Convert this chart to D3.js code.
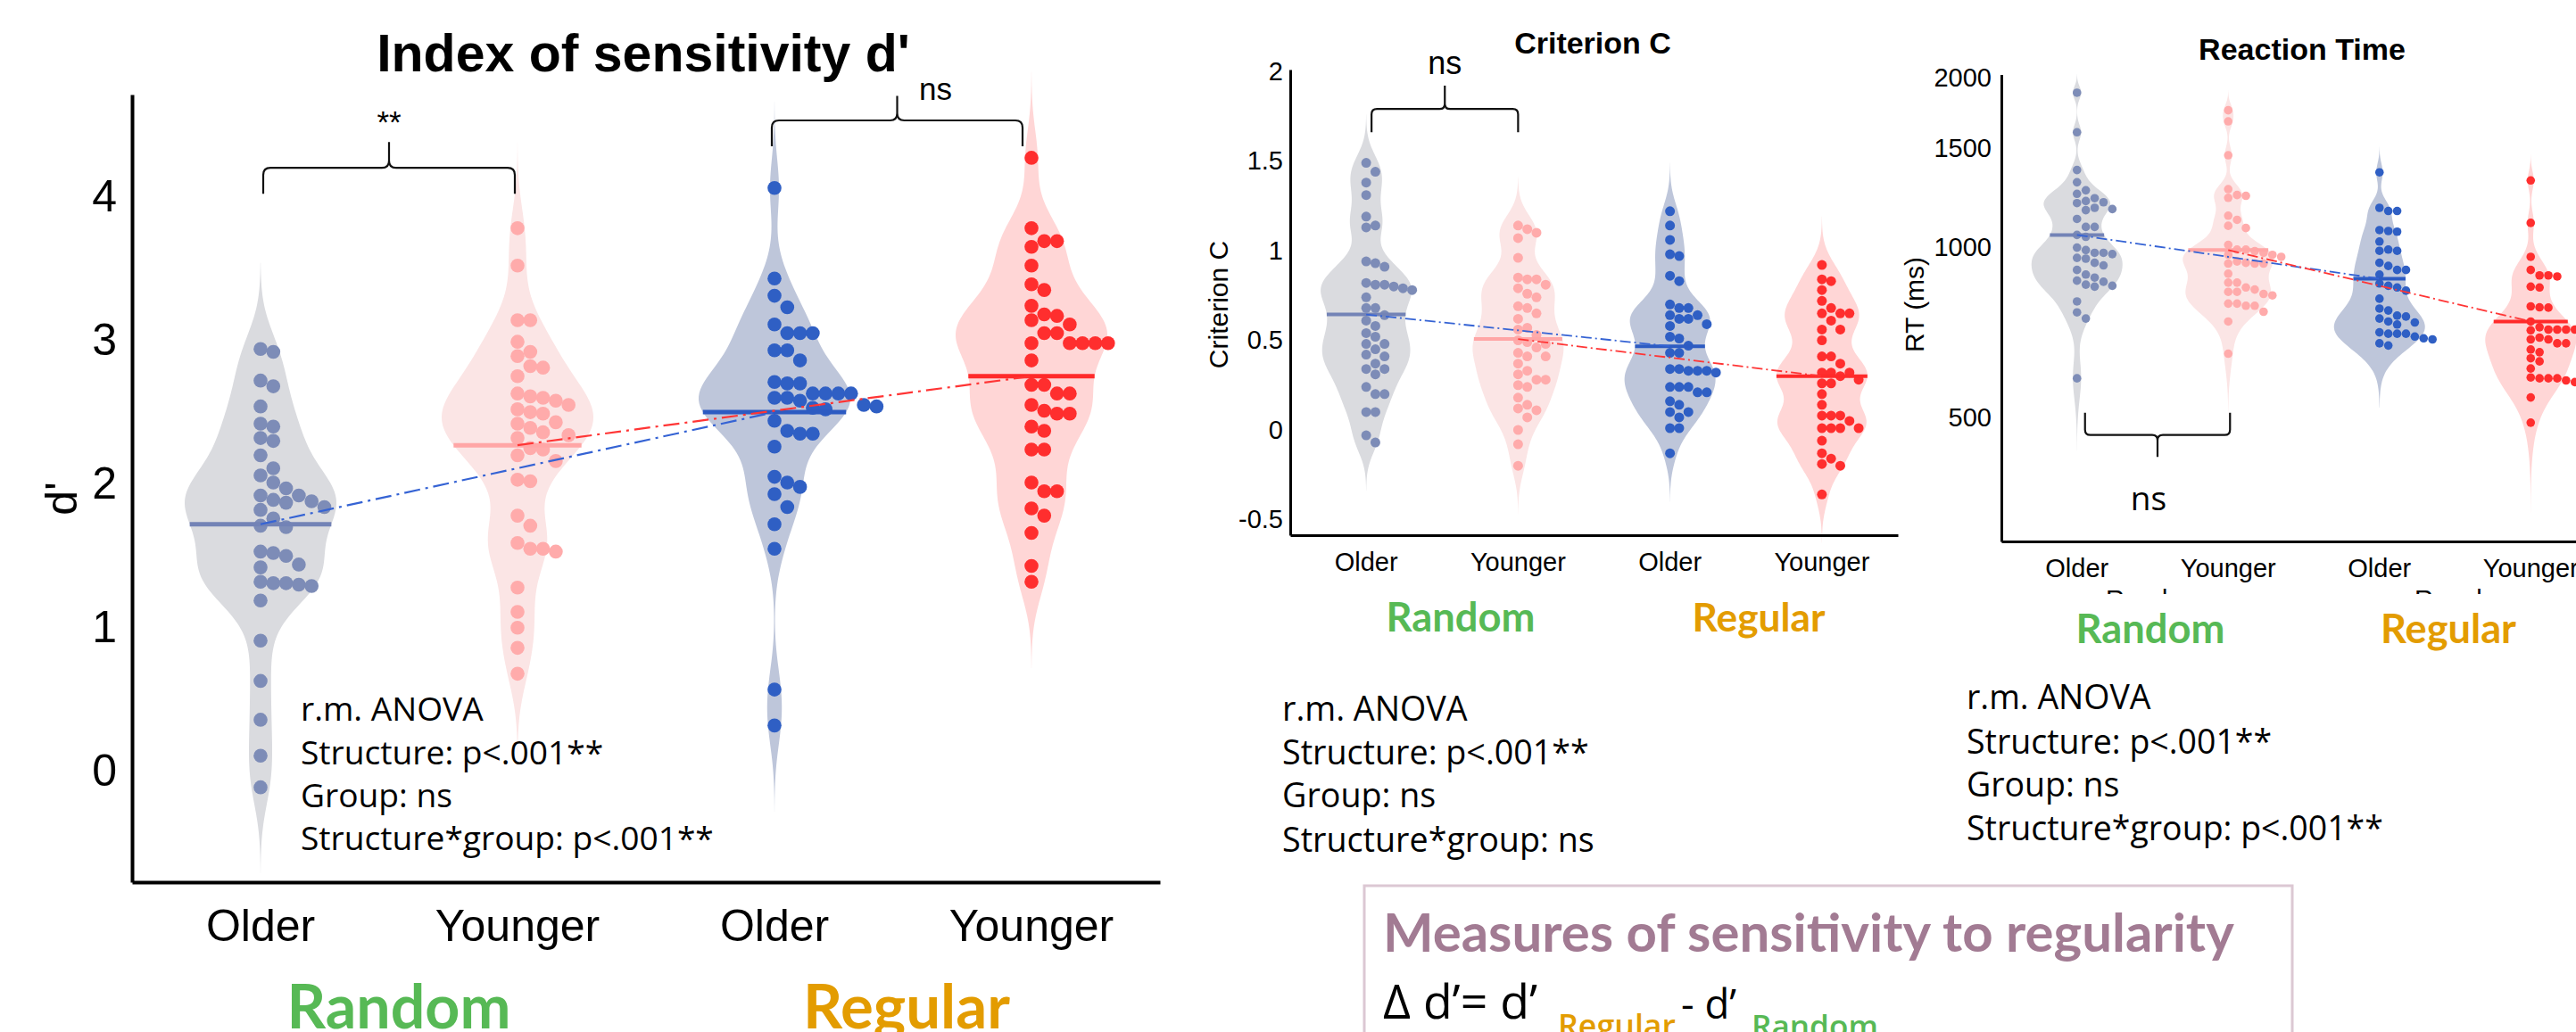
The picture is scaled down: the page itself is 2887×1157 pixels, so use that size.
<!DOCTYPE html>
<html>
<head>
<meta charset="utf-8">
<script src="https://cdn.jsdelivr.net/npm/d3@7"></script>
<style>
  body { margin: 0; background: #fff; }
  svg { display: block; }
</style>
</head>
<body>
<svg id="fig" width="2887" height="1157"></svg>
<script>
// ---- categories ----
const groups = ['Random-Older', 'Random-Younger', 'Regular-Older', 'Regular-Younger'];
const groupLabels = ['Older', 'Younger', 'Older', 'Younger'];
const structures = ['Random', 'Regular'];

// ---- d' (index of sensitivity) ----
const dOlderRandom = [2.94,2.92,2.72,2.68,2.54,2.42,2.40,2.32,2.30,2.20,2.11,2.06,2.01,1.97,1.92,1.92,1.89,1.88,1.87,1.84,1.82,1.76,1.71,1.70,1.53,1.52,1.50,1.44,1.42,1.32,1.31,1.31,1.30,1.29,1.19,0.91,0.63,0.36,0.11,-0.11];
const dYoungerRandom = [3.78,3.52,3.14,3.14,2.99,2.92,2.89,2.82,2.81,2.75,2.63,2.61,2.60,2.58,2.55,2.52,2.50,2.49,2.43,2.42,2.39,2.36,2.34,2.32,2.25,2.24,2.20,2.16,2.03,2.02,1.78,1.71,1.59,1.55,1.55,1.53,1.28,1.11,1.00,0.86,0.68];
const dOlderRegular = [4.06,3.43,3.31,3.23,3.11,3.05,3.05,3.05,2.93,2.93,2.86,2.71,2.70,2.70,2.63,2.63,2.63,2.63,2.60,2.60,2.58,2.55,2.54,2.53,2.52,2.44,2.37,2.35,2.35,2.26,2.05,2.01,1.98,1.93,1.84,1.72,1.55,0.57,0.32];
const dYoungerRegular = [4.27,3.78,3.69,3.69,3.65,3.52,3.39,3.35,3.24,3.18,3.17,3.14,3.11,3.05,3.05,2.98,2.98,2.98,2.98,2.98,2.86,2.69,2.69,2.63,2.63,2.55,2.51,2.49,2.49,2.40,2.37,2.24,2.24,2.01,1.95,1.95,1.83,1.78,1.66,1.43,1.32];
const dMeans = [1.72, 2.27, 2.50, 2.75];
const dTicks = [0, 1, 2, 3, 4];

// ---- Criterion C ----
const cOlderRandom = [1.49,1.44,1.38,1.31,1.19,1.14,1.13,0.94,0.93,0.91,0.82,0.81,0.81,0.80,0.79,0.78,0.74,0.68,0.68,0.64,0.61,0.58,0.54,0.52,0.48,0.48,0.45,0.42,0.41,0.37,0.34,0.34,0.31,0.24,0.20,0.20,0.10,0.10,-0.03,-0.07];
const cYoungerRandom = [1.14,1.12,1.10,1.07,0.96,0.85,0.84,0.84,0.81,0.79,0.76,0.74,0.69,0.68,0.65,0.62,0.57,0.56,0.53,0.50,0.49,0.48,0.46,0.43,0.41,0.41,0.37,0.33,0.31,0.28,0.28,0.25,0.24,0.18,0.14,0.12,0.11,0.07,0.00,-0.08,-0.20];
const cOlderRegular = [1.22,1.14,1.06,0.98,0.97,0.86,0.83,0.70,0.68,0.68,0.64,0.64,0.62,0.62,0.59,0.58,0.52,0.51,0.47,0.43,0.43,0.34,0.34,0.33,0.33,0.33,0.32,0.24,0.24,0.24,0.21,0.21,0.16,0.14,0.10,0.10,0.07,0.01,0.01,-0.13];
const cYoungerRegular = [0.92,0.84,0.83,0.78,0.72,0.68,0.65,0.65,0.65,0.61,0.56,0.56,0.50,0.41,0.41,0.37,0.32,0.32,0.32,0.30,0.28,0.26,0.26,0.20,0.14,0.08,0.08,0.08,0.05,0.01,0.01,0.01,0.01,-0.06,-0.13,-0.16,-0.19,-0.20,-0.36];
const cMeans = [0.644, 0.507, 0.467, 0.30];
const cTicks = [-0.5, 0, 0.5, 1, 1.5, 2];

// ---- Reaction time (ms) ----
const rtOlderRandom = [1880,1600,1372,1305,1263,1245,1223,1209,1203,1199,1176,1170,1165,1124,1088,1088,1053,1045,1000,990,979,979,974,959,956,940,930,913,896,885,874,870,860,856,853,803,768,749,587];
const rtYoungerRandom = [1750,1673,1457,1269,1239,1235,1225,1139,1120,1093,1083,1011,992,992,986,979,971,971,963,945,940,937,937,937,899,867,867,850,843,835,835,828,823,796,796,789,789,770,740,649];
const rtOlderRegular = [1359,1176,1161,1161,1074,1070,1067,1025,992,987,987,940,928,913,913,896,864,856,850,839,812,780,774,758,755,749,740,737,731,708,704,704,704,696,691,688,677,671];
const rtYoungerRegular = [1315,1106,963,913,893,893,889,853,850,787,784,783,740,723,716,716,716,716,714,693,688,688,677,677,660,653,637,629,611,589,587,587,587,582,578,543,490];
const rtMeans = [1053, 990, 881, 740];
const rtTicks = [500, 1000, 1500, 2000];

// ---- annotation text ----
const anovaD = ['r.m. ANOVA', 'Structure: p<.001**', 'Group: ns', 'Structure*group: p<.001**'];
const anovaC = ['r.m. ANOVA', 'Structure: p<.001**', 'Group: ns', 'Structure*group: ns'];
const anovaRT = ['r.m. ANOVA', 'Structure: p<.001**', 'Group: ns', 'Structure*group: p<.001**'];

// ---- colours ----
const violinColors = ['#dadbdf', '#fbe5e5', '#bec6da', '#ffd6d6'];
const dotColors = ['#7d8cb7', '#ffabab', '#2f5fc4', '#ff2e2e'];
const meanColors = ['#7383b6', '#ffa6a6', '#2d5bc2', '#ff2a2a'];
const GREEN = '#57b955', ORANGE = '#e39c00', MAUVE = '#a27b93';

const ARIAL = "'Liberation Sans', Arial, Helvetica, sans-serif";
const CAL = "'Open Sans', 'Noto Sans', sans-serif";
const CALB = "Lato, 'Open Sans', sans-serif";

const svg = d3.select('#fig');

function kde(values, bw, n) {
  const lo = d3.min(values) - 3 * bw, hi = d3.max(values) + 3 * bw;
  return d3.range(n + 1).map(i => {
    const v = lo + (hi - lo) * i / n;
    return [v, densAt(values, v, bw)];
  });
}
function densAt(values, v, bw) {
  return d3.sum(values, x => Math.exp(-0.5 * ((v - x) / bw) ** 2));
}

// one-sided swarm: each point goes into the first column free at its height
function swarm(values, y, step, minDy) {
  const placed = [];
  return values.slice().sort((a, b) => b - a).map(v => {
    const py = y(v);
    let col = 0;
    while (placed.some(p => p.col === col && Math.abs(p.py - py) < minDy)) col++;
    placed.push({ col, py });
    return { v, py, dx: col * step };
  });
}

function brace(g, xa, xb, yLeg, yH, yTip, r) {
  const xm = (xa + xb) / 2;
  const s = Math.sign(yLeg - yH), t = Math.sign(yTip - yH);
  const p = d3.path();
  p.moveTo(xa, yLeg);
  p.lineTo(xa, yH + s * r);
  p.quadraticCurveTo(xa, yH, xa + r, yH);
  p.lineTo(xm - r, yH);
  p.quadraticCurveTo(xm, yH, xm, yH + t * r);
  p.lineTo(xm, yTip);
  p.moveTo(xm, yH + t * r);
  p.quadraticCurveTo(xm, yH, xm + r, yH);
  p.lineTo(xb - r, yH);
  p.quadraticCurveTo(xb, yH, xb, yH + s * r);
  p.lineTo(xb, yLeg);
  g.append('path').attr('d', p.toString()).attr('fill', 'none')
    .attr('stroke', '#111').attr('stroke-width', 2.2);
}

function fitWidth(sel, w) {
  const fs = parseFloat(sel.attr('font-size'));
  const cur = sel.node().getComputedTextLength();
  sel.attr('font-size', fs * w / cur);
  return fs * w / cur;
}

function label(g, txt, x, y, size, opts = {}) {
  return g.append('text').attr('x', x).attr('y', y).text(txt)
    .attr('font-size', size).attr('font-family', opts.family || ARIAL)
    .attr('font-weight', opts.weight || 400).attr('fill', opts.fill || '#000')
    .attr('text-anchor', opts.anchor || 'start');
}

function anova(g, lines, x, baselines, widest) {
  const t = lines.map((s, i) => label(g, s, x, baselines[i], 37, { family: CAL }));
  const longest = d3.maxIndex(lines, s => s.length);
  const fs = fitWidth(t[longest], widest);
  t.forEach(s => s.attr('font-size', fs));
}

const panels = [
  {
    data: [dOlderRandom, dYoungerRandom, dOlderRegular, dYoungerRegular], means: dMeans,
    x0: 148, x1: 1300, y: d3.scaleLinear().domain([-0.77, 4.71]).range([989, 106]),
    ticks: dTicks, fmt: d3.format('d'), bw: 0.2, r: 7.8, step: 14.3, minDy: 15, half: 85,
    meanW: 5, lineW: 2.2, dash: '18,6,3,6', axisW: 4, tickFont: 50, tickPad: 17, labFont: 50, labPad: 30
  },
  {
    data: [cOlderRandom, cYoungerRandom, cOlderRegular, cYoungerRegular], means: cMeans,
    x0: 1446, x1: 2127, y: d3.scaleLinear().domain([-0.587, 2.01]).range([600, 78]),
    ticks: cTicks, fmt: v => String(v), bw: 0.09, r: 5.5, step: 10.3, minDy: 10.5, half: 51,
    meanW: 4, lineW: 1.8, dash: '12,4,2,4', axisW: 3, tickFont: 29, tickPad: 8, labFont: 29, labPad: 19
  },
  {
    data: [rtOlderRandom, rtYoungerRandom, rtOlderRegular, rtYoungerRegular], means: rtMeans,
    x0: 2243, x1: 2921, y: d3.scaleLog().domain([302, 2025]).range([607, 83.5]),
    ticks: rtTicks, fmt: d3.format('d'), bw: 50, r: 4.8, step: 9.9, minDy: 9.5, half: 51,
    meanW: 4, lineW: 1.8, dash: '12,4,2,4', axisW: 3, tickFont: 29, tickPad: 11, labFont: 29, labPad: 19
  }
];

panels.forEach(p => {
  const g = svg.append('g');
  const x = d3.scaleBand().domain(groups).range([p.x0, p.x1]);
  const cx = i => x(groups[i]) + x.bandwidth() / 2;
  p.cx = cx;

  // violins
  const maxD = p.data.map((vals, i) => {
    const dens = kde(vals, p.bw, 200);
    const m = d3.max(dens, d => d[1]);
    const area = d3.area()
      .y(d => p.y(d[0]))
      .x0(d => cx(i) - d[1] / m * p.half)
      .x1(d => cx(i) + d[1] / m * p.half);
    g.append('path').datum(dens).attr('d', area).attr('fill', violinColors[i]);
    return m;
  });

  // dots
  p.data.forEach((vals, i) => {
    g.append('g').selectAll('circle')
      .data(swarm(vals, p.y, p.step, p.minDy))
      .join('circle')
      .attr('cx', d => cx(i) + d.dx)
      .attr('cy', d => d.py)
      .attr('r', p.r)
      .attr('fill', dotColors[i]);
  });

  // mean lines
  p.means.forEach((m, i) => {
    const w = densAt(p.data[i], m, p.bw) / maxD[i] * p.half;
    g.append('line')
      .attr('x1', cx(i) - w).attr('x2', cx(i) + w)
      .attr('y1', p.y(m)).attr('y2', p.y(m))
      .attr('stroke', meanColors[i]).attr('stroke-width', p.meanW);
  });

  // dash-dot links between structures, per age group
  [[0, 2, '#3563d4'], [1, 3, '#ff3535']].forEach(([a, b, col]) => {
    g.append('line')
      .attr('x1', cx(a)).attr('y1', p.y(p.means[a]))
      .attr('x2', cx(b)).attr('y2', p.y(p.means[b]))
      .attr('stroke', col).attr('stroke-width', p.lineW)
      .attr('stroke-dasharray', p.dash);
  });

  // axes
  const ya = g.append('g').attr('transform', `translate(${p.x0},0)`)
    .call(d3.axisLeft(p.y).tickValues(p.ticks).tickFormat(p.fmt)
      .tickSize(0).tickSizeOuter(0).tickPadding(p.tickPad));
  ya.select('.domain').attr('stroke', '#000').attr('stroke-width', p.axisW);
  ya.selectAll('text').attr('font-size', p.tickFont).attr('font-family', ARIAL).attr('fill', '#000');

  const xa = g.append('g').attr('transform', `translate(0,${p.y.range()[0]})`)
    .call(d3.axisBottom(x).tickFormat((d, i) => groupLabels[i])
      .tickSize(0).tickSizeOuter(0).tickPadding(p.labPad));
  xa.select('.domain').attr('stroke', '#000').attr('stroke-width', p.axisW);
  xa.selectAll('text').attr('font-size', p.labFont).attr('font-family', ARIAL).attr('fill', '#000');
});

const ann = svg.append('g');

// ---- d' panel annotations ----
{
  const p = panels[0];
  label(ann, "Index of sensitivity d'", 721, 80, 59, { weight: 700, anchor: 'middle' });
  label(ann, 'ns', 1030, 112, 35);
  brace(ann, p.cx(0) + 3, p.cx(1) - 3, p.y(4.02), p.y(4.2), p.y(4.38), 8);
  label(ann, '**', (p.cx(0) + p.cx(1)) / 2, 149, 35, { anchor: 'middle' });
  brace(ann, p.cx(2) - 3, p.cx(3) - 10, p.y(4.35), p.y(4.53), p.y(4.7), 8);
  ann.append('text').attr('transform', 'translate(86,559) rotate(-90)')
    .attr('text-anchor', 'middle').attr('font-size', 50).attr('font-family', ARIAL).text("d'");
  anova(ann, anovaD, 337, [808, 857, 905, 953], 463);
  fitWidth(label(ann, structures[0], 447, 1153, 68, { family: CALB, weight: 700, fill: GREEN, anchor: 'middle' }), 251);
  fitWidth(label(ann, structures[1], 1016, 1153, 68, { family: CALB, weight: 700, fill: ORANGE, anchor: 'middle' }), 232);
}

// ---- Criterion panel annotations ----
{
  const p = panels[1];
  label(ann, 'Criterion C', 1785, 60, 34, { weight: 700, anchor: 'middle' });
  brace(ann, p.cx(0) + 6, p.cx(1), p.y(1.66), p.y(1.79), p.y(1.92), 6);
  label(ann, 'ns', (p.cx(0) + 6 + p.cx(1)) / 2, 83, 36, { anchor: 'middle' });
  ann.append('text').attr('transform', 'translate(1376,341.5) rotate(-90)')
    .attr('text-anchor', 'middle').attr('font-size', 30).attr('font-family', ARIAL).text('Criterion C');
  anova(ann, anovaC, 1437, [808, 857, 905, 955], 344);
  fitWidth(label(ann, structures[0], 1637, 708, 44, { family: CALB, weight: 700, fill: GREEN, anchor: 'middle' }), 167);
  fitWidth(label(ann, structures[1], 1971, 708, 44, { family: CALB, weight: 700, fill: ORANGE, anchor: 'middle' }), 149);
}

// ---- RT panel annotations ----
{
  const p = panels[2];
  label(ann, 'Reaction Time', 2580, 67, 34, { weight: 700, anchor: 'middle' });
  brace(ann, p.cx(0) + 9, p.cx(1) + 2, p.y(510), p.y(466), p.y(426), 6);
  label(ann, 'ns', 2408, 572, 37, { family: CAL, anchor: 'middle' });
  ann.append('text').attr('transform', 'translate(2156,341.5) rotate(-90)')
    .attr('text-anchor', 'middle').attr('font-size', 30).attr('font-family', ARIAL).text('RT (ms)');
  // axis group names, mostly hidden under the coloured labels
  label(ann, structures[0], 2360, 682, 29);
  label(ann, structures[1], 2706, 682, 29);
  ann.append('rect').attr('x', 2250).attr('y', 666).attr('width', 640).attr('height', 30).attr('fill', '#fff');
  anova(ann, anovaRT, 2204, [795, 845, 893, 942], 467);
  fitWidth(label(ann, structures[0], 2410, 721, 44, { family: CALB, weight: 700, fill: GREEN, anchor: 'middle' }), 167);
  fitWidth(label(ann, structures[1], 2744, 721, 44, { family: CALB, weight: 700, fill: ORANGE, anchor: 'middle' }), 152);
}

// ---- box: measures of sensitivity to regularity ----
{
  ann.append('rect').attr('x', 1529).attr('y', 993).attr('width', 1040).attr('height', 220)
    .attr('fill', 'none').attr('stroke', '#dcc8d3').attr('stroke-width', 3);
  fitWidth(label(ann, 'Measures of sensitivity to regularity', 1550, 1067, 57,
    { family: CALB, weight: 700, fill: MAUVE }), 954);
  fitWidth(label(ann, 'Δ d’= d’', 1550, 1142, 49, { family: CAL }), 173);
  fitWidth(label(ann, structures[1], 1746, 1163, 37, { family: CAL, weight: 600, fill: ORANGE }), 132);
  fitWidth(label(ann, '- d’', 1884, 1142, 49, { family: CAL }), 62);
  fitWidth(label(ann, structures[0], 1963, 1163, 37, { family: CAL, weight: 600, fill: GREEN }), 142);
}
</script>
</body>
</html>
